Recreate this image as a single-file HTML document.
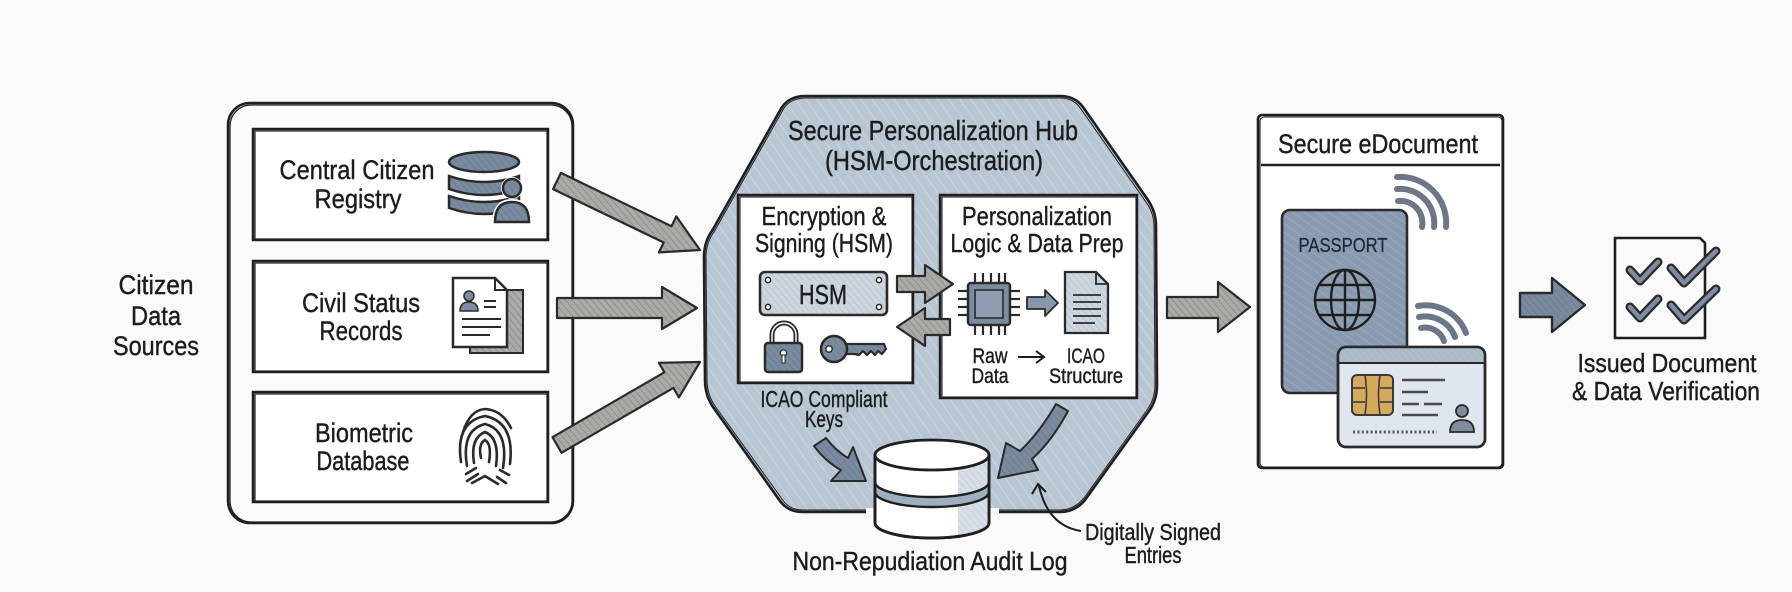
<!DOCTYPE html>
<html><head><meta charset="utf-8"><style>
html,body{margin:0;padding:0;background:#fafafa;}
svg{display:block;}
.t{font-family:"Liberation Sans Narrow","Liberation Sans",sans-serif;fill:#1c1c1c;stroke:#1c1c1c;stroke-width:0.4;}
</style></head><body>
<svg width="1792" height="592" viewBox="0 0 1792 592" xmlns="http://www.w3.org/2000/svg">
<defs>
<pattern id="hW" width="9" height="9" patternUnits="userSpaceOnUse" patternTransform="rotate(-35)">
<line x1="0" y1="0" x2="0" y2="9" stroke="#ffffff" stroke-width="1.4" stroke-opacity="0.35"/></pattern>
<pattern id="hG" width="5" height="5" patternUnits="userSpaceOnUse" patternTransform="rotate(-40)">
<rect width="5" height="5" fill="#aaaaa6"/><line x1="0" y1="0" x2="0" y2="5" stroke="#7f7f7b" stroke-width="1.2"/></pattern>
<pattern id="hB" width="5" height="5" patternUnits="userSpaceOnUse" patternTransform="rotate(-40)">
<rect width="5" height="5" fill="#7a8b9f"/><line x1="0" y1="0" x2="0" y2="5" stroke="#64758a" stroke-width="1.2"/></pattern>
<pattern id="hL" width="5" height="5" patternUnits="userSpaceOnUse" patternTransform="rotate(-40)">
<rect width="5" height="5" fill="#cdd6df"/><line x1="0" y1="0" x2="0" y2="5" stroke="#aebbc8" stroke-width="1.1"/></pattern>
<pattern id="hP" width="7" height="7" patternUnits="userSpaceOnUse" patternTransform="rotate(-55)">
<rect width="7" height="7" fill="#8a9ab0"/><line x1="0" y1="0" x2="0" y2="7" stroke="#a3b1c3" stroke-width="1"/></pattern>
<clipPath id="hubclip"><path d="M805,96 L1060,96 Q1075,96 1083,107 L1148,200 Q1156,212 1156,226 L1157,385 Q1157,400 1149,411 L1085,500 Q1075,512 1060,512 L803,512 Q788,512 780,501 L713,407 Q705,395 705,380 L704,257 Q704,242 712,231 L782,107 Q790,96 805,96 Z"/></clipPath>
</defs>

<rect width="1792" height="592" fill="#fafafa"/>

<!-- LEFT: Citizen data sources -->
<text class="t" x="156" y="294" font-size="27" text-anchor="middle" textLength="75" lengthAdjust="spacingAndGlyphs">Citizen</text>
<text class="t" x="156" y="325" font-size="27" text-anchor="middle" textLength="50" lengthAdjust="spacingAndGlyphs">Data</text>
<text class="t" x="156" y="355" font-size="27" text-anchor="middle" textLength="86" lengthAdjust="spacingAndGlyphs">Sources</text>

<rect x="228" y="103" width="345" height="420" rx="22" fill="#fbfbfb" stroke="#1f1f1f" stroke-width="2.5"/>
<rect x="230" y="105" width="342" height="417" rx="21" fill="none" stroke="#1f1f1f" stroke-width="1.3"/>

<g fill="#ffffff" stroke="#1f1f1f" stroke-width="2.5">
<rect x="253" y="129" width="295" height="111"/>
<rect x="253" y="261" width="295" height="111"/>
<rect x="253" y="392" width="295" height="110"/>
</g>
<g fill="none" stroke="#1f1f1f" stroke-width="1.2">
<rect x="255" y="131" width="292" height="108"/>
<rect x="255" y="263" width="292" height="108"/>
<rect x="255" y="394" width="292" height="107"/>
</g>

<text class="t" x="357" y="179" font-size="27" text-anchor="middle" textLength="155" lengthAdjust="spacingAndGlyphs">Central Citizen</text>
<text class="t" x="358" y="208" font-size="27" text-anchor="middle" textLength="87" lengthAdjust="spacingAndGlyphs">Registry</text>
<text class="t" x="361" y="312" font-size="27" text-anchor="middle" textLength="118" lengthAdjust="spacingAndGlyphs">Civil Status</text>
<text class="t" x="361" y="340" font-size="27" text-anchor="middle" textLength="83" lengthAdjust="spacingAndGlyphs">Records</text>
<text class="t" x="364" y="442" font-size="27" text-anchor="middle" textLength="98" lengthAdjust="spacingAndGlyphs">Biometric</text>
<text class="t" x="363" y="470" font-size="27" text-anchor="middle" textLength="93" lengthAdjust="spacingAndGlyphs">Database</text>

<!-- registry icon -->
<g stroke="#2a2a2a" stroke-width="2.5" fill="url(#hB)">
<path d="M449,196 Q484,208 519,196 L519,208 Q484,220 449,208 Z"/>
<path d="M449,176 Q484,188 519,176 L519,189 Q484,201 449,189 Z"/>
<ellipse cx="484" cy="162" rx="35" ry="10"/>
</g>
<circle cx="512" cy="188" r="11" fill="#fff"/>
<path d="M492,224 Q492,199 512,199 Q532,199 532,224 Z" fill="#fff"/>
<circle cx="512" cy="188" r="9" fill="url(#hB)" stroke="#2a2a2a" stroke-width="2.5"/>
<path d="M495,222 Q495,202 512,202 Q529,202 529,222 Z" fill="url(#hB)" stroke="#2a2a2a" stroke-width="2.5"/>

<!-- civil doc icon -->
<rect x="470" y="290" width="53" height="63" fill="url(#hG)" stroke="#2a2a2a" stroke-width="2"/>
<path d="M453,278 L495,278 L507,290 L507,347 L453,347 Z" fill="#fff" stroke="#2a2a2a" stroke-width="2.5"/>
<path d="M495,278 L495,290 L507,290" fill="none" stroke="#2a2a2a" stroke-width="2"/>
<circle cx="469" cy="296" r="5" fill="#7d8ca0" stroke="#2a2a2a" stroke-width="1.5"/>
<path d="M460,311 Q460,302 469,302 Q478,302 478,311 Z" fill="#7d8ca0" stroke="#2a2a2a" stroke-width="1.5"/>
<g stroke="#2a2a2a" stroke-width="2">
<line x1="484" y1="301" x2="496" y2="301"/><line x1="484" y1="307" x2="496" y2="307"/>
<line x1="462" y1="319" x2="501" y2="319"/><line x1="462" y1="327" x2="501" y2="327"/><line x1="462" y1="335" x2="490" y2="335"/>
</g>

<!-- fingerprint -->
<g fill="none" stroke="#2a2a2a" stroke-width="2.6" stroke-linecap="round">
<path d="M481,458 Q478,444 485,440 Q492,444 489,462"/>
<path d="M474,463 Q470,438 485,432 Q500,438 496,466"/>
<path d="M467,466 Q461,430 485,424 Q509,430 503,468"/>
<path d="M461,462 Q455,422 485,416 Q515,422 510,464"/>
<path d="M463,432 Q470,410 485,409 Q502,410 511,428"/>
<path d="M466,474 L476,468 M467,481 L478,474 M500,470 L509,475 M497,477 L506,483"/>
<path d="M472,483 L485,476 L498,484"/>
</g>

<!-- left arrows -->
<g fill="url(#hG)" stroke="#2a2a2a" stroke-width="2.2" stroke-linejoin="round">
<polygon points="560.9,172.9 671.5,226.3 676.3,216.4 700,250 658.9,252.4 663.7,242.5 553.1,189.1"/>
<polygon points="557,298 662,298 662,287 697,308 662,329 662,318 557,318"/>
<polygon points="552.5,437.2 664.4,372.3 658.9,362.8 700,362 678.9,397.4 673.4,387.9 561.5,452.8"/>
</g>

<!-- HUB -->
<path d="M805,96 L1060,96 Q1075,96 1083,107 L1148,200 Q1156,212 1156,226 L1157,385 Q1157,400 1149,411 L1085,500 Q1075,512 1060,512 L803,512 Q788,512 780,501 L713,407 Q705,395 705,380 L704,257 Q704,242 712,231 L782,107 Q790,96 805,96 Z" fill="#b8c6d3"/>
<rect x="700" y="90" width="460" height="425" fill="url(#hW)" clip-path="url(#hubclip)"/>
<path d="M805,96 L1060,96 Q1075,96 1083,107 L1148,200 Q1156,212 1156,226 L1157,385 Q1157,400 1149,411 L1085,500 Q1075,512 1060,512 L803,512 Q788,512 780,501 L713,407 Q705,395 705,380 L704,257 Q704,242 712,231 L782,107 Q790,96 805,96 Z" fill="none" stroke="#1f1f1f" stroke-width="2.6"/>
<path d="M806,98 L1060,98 Q1074,98 1081,109 L1146,202 Q1154,213 1154,227 L1155,385 Q1155,399 1147,410 L1084,498 Q1074,510 1060,510 L803,510 Q789,510 782,499 L715,406 Q707,394 707,380 L706,257 Q706,243 714,232 L784,108 Q791,98 806,98 Z" fill="none" stroke="#1f1f1f" stroke-width="1"/>

<text class="t" x="933" y="140" font-size="28" text-anchor="middle" textLength="290" lengthAdjust="spacingAndGlyphs">Secure Personalization Hub</text>
<text class="t" x="934" y="170" font-size="28" text-anchor="middle" textLength="218" lengthAdjust="spacingAndGlyphs">(HSM-Orchestration)</text>

<g fill="#ffffff" stroke="#1f1f1f" stroke-width="2.5">
<rect x="738" y="195" width="175" height="188"/>
<rect x="940" y="195" width="197" height="203"/>
</g>
<g fill="none" stroke="#1f1f1f" stroke-width="1.1">
<rect x="740" y="197" width="172" height="185"/>
<rect x="942" y="197" width="194" height="200"/>
</g>

<text class="t" x="824" y="225" font-size="26" text-anchor="middle" textLength="125" lengthAdjust="spacingAndGlyphs">Encryption &amp;</text>
<text class="t" x="824" y="252" font-size="26" text-anchor="middle" textLength="138" lengthAdjust="spacingAndGlyphs">Signing (HSM)</text>
<text class="t" x="1037" y="225" font-size="26" text-anchor="middle" textLength="150" lengthAdjust="spacingAndGlyphs">Personalization</text>
<text class="t" x="1037" y="252" font-size="26" text-anchor="middle" textLength="173" lengthAdjust="spacingAndGlyphs">Logic &amp; Data Prep</text>

<!-- HSM plate -->
<rect x="760" y="272" width="127" height="43" rx="5" fill="url(#hL)" stroke="#2a2a2a" stroke-width="2.6"/>
<g fill="#fff" stroke="#2a2a2a" stroke-width="1.5">
<circle cx="768" cy="280" r="2.6"/><circle cx="879" cy="280" r="2.6"/><circle cx="768" cy="307" r="2.6"/><circle cx="879" cy="307" r="2.6"/>
</g>
<text class="t" x="823" y="304" font-size="28" text-anchor="middle" textLength="48" lengthAdjust="spacingAndGlyphs">HSM</text>

<!-- lock -->
<path d="M772,345 V335 A12,12 0 0 1 796,335 V345" fill="none" stroke="#2a2a2a" stroke-width="5"/>
<path d="M772,345 V335 A12,12 0 0 1 796,335 V345" fill="none" stroke="#f4f6f8" stroke-width="1.5"/>
<rect x="765" y="343" width="37" height="29" rx="3" fill="url(#hB)" stroke="#2a2a2a" stroke-width="2.5"/>
<circle cx="783.5" cy="353" r="3.2" fill="#fff" stroke="#2a2a2a" stroke-width="1.2"/>
<rect x="782" y="355" width="3" height="8" fill="#fff" stroke="#2a2a2a" stroke-width="1"/>

<!-- key -->
<path d="M845,344 L884,344 L886,349 L882,354 L878,351 L875,355 L871,351 L867,355 L863,351 L859,355 L855,354 L845,354 Z" fill="url(#hB)" stroke="#2a2a2a" stroke-width="2.2" stroke-linejoin="round"/>
<circle cx="834" cy="349" r="13" fill="url(#hB)" stroke="#2a2a2a" stroke-width="2.5"/>
<circle cx="829" cy="349" r="3.2" fill="#fff" stroke="#2a2a2a" stroke-width="1.3"/>

<!-- HSM <-> prep arrows -->
<g fill="url(#hG)" stroke="#2a2a2a" stroke-width="2.2" stroke-linejoin="round">
<polygon points="897,276 925,276 925,265 953,284 925,303 925,292 897,292"/>
<polygon points="950,319 925,319 925,308 897,327 925,346 925,335 950,335"/>
</g>

<!-- chip -->
<g stroke="#2a2a2a" stroke-width="2.2">
<line x1="975" y1="273" x2="975" y2="283"/><line x1="983" y1="273" x2="983" y2="283"/><line x1="991" y1="273" x2="991" y2="283"/><line x1="999" y1="273" x2="999" y2="283"/><line x1="1005" y1="273" x2="1005" y2="283"/>
<line x1="975" y1="325" x2="975" y2="335"/><line x1="983" y1="325" x2="983" y2="335"/><line x1="991" y1="325" x2="991" y2="335"/><line x1="999" y1="325" x2="999" y2="335"/><line x1="1005" y1="325" x2="1005" y2="335"/>
<line x1="958" y1="291" x2="968" y2="291"/><line x1="958" y1="299" x2="968" y2="299"/><line x1="958" y1="307" x2="968" y2="307"/><line x1="958" y1="315" x2="968" y2="315"/>
<line x1="1010" y1="291" x2="1020" y2="291"/><line x1="1010" y1="299" x2="1020" y2="299"/><line x1="1010" y1="307" x2="1020" y2="307"/><line x1="1010" y1="315" x2="1020" y2="315"/>
</g>
<rect x="968" y="283" width="42" height="42" rx="3" fill="#7b8ba0" stroke="#2a2a2a" stroke-width="2.5"/>
<rect x="975" y="290" width="28" height="28" fill="#8d9cb0" stroke="#2a2a2a" stroke-width="1.6"/>

<polygon points="1027,297 1045,297 1045,290 1058,303 1045,316 1045,309 1027,309" fill="#8797aa" stroke="#2a2a2a" stroke-width="1.8" stroke-linejoin="round"/>

<!-- doc -->
<path d="M1065,272 L1096,272 L1108,284 L1108,333 L1065,333 Z" fill="url(#hL)" stroke="#2a2a2a" stroke-width="2.3"/>
<path d="M1096,272 L1096,284 L1108,284" fill="none" stroke="#2a2a2a" stroke-width="1.8"/>
<g stroke="#2a2a2a" stroke-width="1.8">
<line x1="1073" y1="295" x2="1101" y2="295"/><line x1="1073" y1="302" x2="1101" y2="302"/><line x1="1073" y1="309" x2="1101" y2="309"/><line x1="1073" y1="316" x2="1101" y2="316"/><line x1="1073" y1="323" x2="1095" y2="323"/>
</g>

<text class="t" x="990" y="363" font-size="21" text-anchor="middle" textLength="35" lengthAdjust="spacingAndGlyphs">Raw</text>
<text class="t" x="990" y="383" font-size="21" text-anchor="middle" textLength="37" lengthAdjust="spacingAndGlyphs">Data</text>
<line x1="1018" y1="357" x2="1043" y2="357" stroke="#1c1c1c" stroke-width="2"/>
<path d="M1036,351 L1044,357 L1036,363" fill="none" stroke="#1c1c1c" stroke-width="2"/>
<text class="t" x="1086" y="363" font-size="21" text-anchor="middle" textLength="38" lengthAdjust="spacingAndGlyphs">ICAO</text>
<text class="t" x="1086" y="383" font-size="21" text-anchor="middle" textLength="74" lengthAdjust="spacingAndGlyphs">Structure</text>

<text class="t" x="824" y="407" font-size="23" text-anchor="middle" textLength="127" lengthAdjust="spacingAndGlyphs">ICAO Compliant</text>
<text class="t" x="824" y="427" font-size="23" text-anchor="middle" textLength="38" lengthAdjust="spacingAndGlyphs">Keys</text>

<!-- hub inner curved arrows -->
<g fill="url(#hB)" stroke="#2a2a2a" stroke-width="2" stroke-linejoin="round">
<path d="M814,446 L826,438 Q836,451 848,458 L853,447 L866,481 L831,481 L841,470 Q826,462 814,446 Z"/>
<path d="M1056,404 L1068,411 Q1052,441 1032,459 L1038,470 L998,478 L1006,443 L1020,451 Q1040,432 1056,404 Z"/>
</g>

<!-- hide hub bottom line around cylinder -->
<rect x="866" y="508" width="133" height="8" fill="#fafafa"/>

<!-- cylinder -->
<path d="M875,455 L875,523 A57,15 0 0 0 989,523 L989,455 Z" fill="#ffffff" stroke="#1f1f1f" stroke-width="2.8"/>
<path d="M958,462 L989,458 L989,523 A57,15 0 0 1 958,536 Z" fill="url(#hL)" opacity="0.8"/>
<path d="M875,482 A57,15 0 0 0 989,482 L989,492 A57,15 0 0 1 875,492 Z" fill="#9eafc1" stroke="#1f1f1f" stroke-width="2.4"/>
<path d="M875,455 L875,523 A57,15 0 0 0 989,523 L989,455" fill="none" stroke="#1f1f1f" stroke-width="2.8"/>
<ellipse cx="932" cy="455" rx="57" ry="15" fill="#ffffff" stroke="#1f1f1f" stroke-width="2.8"/>

<text class="t" x="930" y="570" font-size="26" text-anchor="middle" textLength="275" lengthAdjust="spacingAndGlyphs">Non-Repudiation Audit Log</text>
<text class="t" x="1153" y="540" font-size="23" text-anchor="middle" textLength="136" lengthAdjust="spacingAndGlyphs">Digitally Signed</text>
<text class="t" x="1153" y="563" font-size="23" text-anchor="middle" textLength="57" lengthAdjust="spacingAndGlyphs">Entries</text>
<path d="M1081,531 Q1048,526 1039,486" fill="none" stroke="#1c1c1c" stroke-width="2"/>
<path d="M1032,494 L1038,484 L1046,492" fill="none" stroke="#1c1c1c" stroke-width="2"/>

<!-- hub -> eDoc arrow -->
<polygon points="1167,297 1218,297 1218,282 1250,307 1218,332 1218,318 1167,318" fill="url(#hG)" stroke="#2a2a2a" stroke-width="2.2" stroke-linejoin="round"/>

<!-- eDocument -->
<rect x="1258" y="115" width="245" height="353" rx="4" fill="#ffffff" stroke="#1f1f1f" stroke-width="2.6"/>
<rect x="1260" y="117" width="242" height="350" rx="4" fill="none" stroke="#1f1f1f" stroke-width="1.1"/>
<line x1="1261" y1="165" x2="1500" y2="165" stroke="#1f1f1f" stroke-width="2.5"/>
<text class="t" x="1378" y="153" font-size="27" text-anchor="middle" textLength="200" lengthAdjust="spacingAndGlyphs">Secure eDocument</text>

<!-- wifi 1 -->
<g fill="none" stroke="#6b7787" stroke-width="6" stroke-linecap="round">
<path d="M1398,201 A22,22 0 0 1 1422,227"/>
<path d="M1397,189 A34,34 0 0 1 1434,227"/>
<path d="M1397,177 A46,46 0 0 1 1446,227"/>
</g>
<!-- passport -->
<rect x="1282" y="210" width="125" height="183" rx="8" fill="url(#hP)" stroke="#2a2a2a" stroke-width="2.6"/>
<text x="1343" y="252" font-size="20" text-anchor="middle" textLength="89" lengthAdjust="spacingAndGlyphs" font-family="Liberation Sans Narrow, Liberation Sans, sans-serif" fill="#1f2a38" stroke="#1f2a38" stroke-width="0.3">PASSPORT</text>
<g fill="none" stroke="#1f1f1f" stroke-width="2.4">
<circle cx="1345" cy="300" r="30"/>
<ellipse cx="1345" cy="300" rx="14" ry="30"/>
<line x1="1345" y1="270" x2="1345" y2="330"/>
<line x1="1315" y1="300" x2="1375" y2="300"/>
<line x1="1319" y1="285" x2="1371" y2="285"/>
<line x1="1319" y1="315" x2="1371" y2="315"/>
</g>
<!-- wifi 2 -->
<g fill="none" stroke="#6b7787" stroke-width="6" stroke-linecap="round">
<path d="M1421,328 A20,20 0 0 1 1444,341"/>
<path d="M1419,317 A32,32 0 0 1 1455,337"/>
<path d="M1418,306 A43,43 0 0 1 1466,333"/>
</g>
<!-- ID card -->
<rect x="1338" y="347" width="147" height="100" rx="8" fill="#dfe6ee" stroke="#2a2a2a" stroke-width="2.6"/>
<path d="M1346,348 H1477 Q1484,348 1484,355 V363 H1339 V355 Q1339,348 1346,348 Z" fill="url(#hL)"/>
<path d="M1346,348 H1477 Q1484,348 1484,355 V363 H1339 V355 Q1339,348 1346,348 Z" fill="#9aaabb" opacity="0.6"/>
<line x1="1339" y1="363" x2="1484" y2="363" stroke="#2a2a2a" stroke-width="2"/>
<rect x="1338" y="347" width="147" height="100" rx="8" fill="none" stroke="#2a2a2a" stroke-width="2.6"/>
<rect x="1352" y="375" width="41" height="40" rx="5" fill="#d6aa5c" stroke="#3a3a3a" stroke-width="2"/>
<g fill="none" stroke="#3a3a3a" stroke-width="1.6">
<line x1="1352" y1="388" x2="1365" y2="388"/><line x1="1352" y1="402" x2="1365" y2="402"/>
<line x1="1380" y1="388" x2="1393" y2="388"/><line x1="1380" y1="402" x2="1393" y2="402"/>
<path d="M1365,375 Q1368,395 1365,415 M1380,375 Q1377,395 1380,415"/>
</g>
<g stroke="#4a4a4a" stroke-width="2.6">
<line x1="1402" y1="380" x2="1445" y2="380"/>
<line x1="1402" y1="392" x2="1428" y2="392"/>
<line x1="1402" y1="404" x2="1419" y2="404"/><line x1="1424" y1="404" x2="1442" y2="404"/>
<line x1="1402" y1="415" x2="1438" y2="415"/>
</g>
<line x1="1353" y1="432" x2="1437" y2="432" stroke="#555" stroke-width="3" stroke-dasharray="2 2.4"/>
<circle cx="1462" cy="411" r="6" fill="#7d8ca0" stroke="#2a2a2a" stroke-width="1.8"/>
<path d="M1450,432 Q1450,420 1462,420 Q1474,420 1474,432 Z" fill="#7d8ca0" stroke="#2a2a2a" stroke-width="1.8"/>

<!-- eDoc -> verification arrow -->
<polygon points="1520,293 1552,293 1552,278 1585,305 1552,332 1552,317 1520,317" fill="url(#hB)" stroke="#2a2a2a" stroke-width="2.4" stroke-linejoin="round"/>

<!-- checklist -->
<path d="M1615,238 L1700,238 L1705,243 L1705,338 L1615,338 Z" fill="none" stroke="#1f1f1f" stroke-width="2.6"/>
<g fill="none" stroke-linecap="round" stroke-linejoin="round">
<g stroke="#2a2a2a" stroke-width="9">
<polyline points="1630,270 1640,281 1658,262"/>
<polyline points="1630,307 1640,318 1658,299"/>
<polyline points="1671,268 1684,283 1716,251"/>
<polyline points="1671,305 1684,320 1716,289"/>
</g>
<g stroke="#7d8ca0" stroke-width="4.5">
<polyline points="1630,270 1640,281 1658,262"/>
<polyline points="1630,307 1640,318 1658,299"/>
<polyline points="1671,268 1684,283 1716,251"/>
<polyline points="1671,305 1684,320 1716,289"/>
</g>
</g>
<text class="t" x="1667" y="372" font-size="26" text-anchor="middle" textLength="179" lengthAdjust="spacingAndGlyphs">Issued Document</text>
<text class="t" x="1666" y="400" font-size="26" text-anchor="middle" textLength="188" lengthAdjust="spacingAndGlyphs">&amp; Data Verification</text>
</svg>
</body></html>
